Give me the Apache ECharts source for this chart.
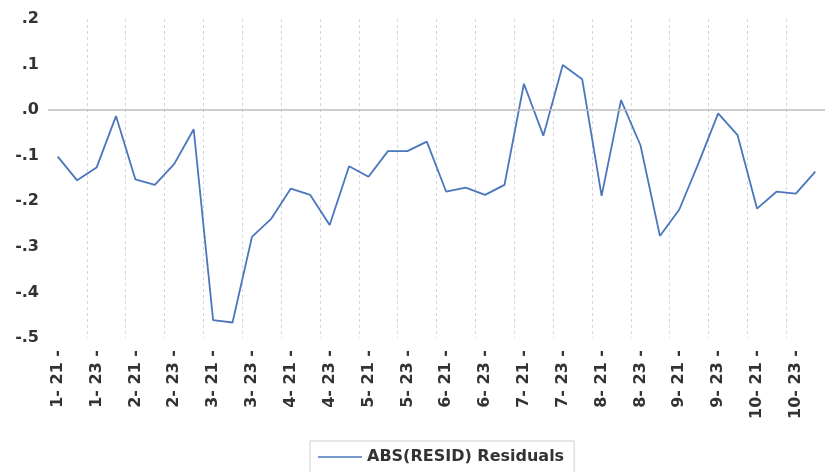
<!DOCTYPE html>
<html>
<head>
<meta charset="utf-8">
<script src="https://cdn.jsdelivr.net/npm/echarts@6/dist/echarts.min.js"></script>
<style>
html,body{margin:0;padding:0;background:#fff;}
#chart{width:825px;height:472px;}
</style>
</head>
<body>
<div id="chart"></div>
<script>
var categories = [
  "1- 21","1- 22","1- 23","1- 24","2- 21","2- 22","2- 23","2- 24",
  "3- 21","3- 22","3- 23","3- 24","4- 21","4- 22","4- 23","4- 24",
  "5- 21","5- 22","5- 23","5- 24","6- 21","6- 22","6- 23","6- 24",
  "7- 21","7- 22","7- 23","7- 24","8- 21","8- 22","8- 23","8- 24",
  "9- 21","9- 22","9- 23","9- 24","10- 21","10- 22","10- 23","10- 24"
];
var residuals = [
  -0.102,-0.154,-0.126,-0.013,-0.152,-0.164,-0.118,-0.042,
  -0.461,-0.466,-0.278,-0.238,-0.172,-0.186,-0.252,-0.123,
  -0.146,-0.090,-0.090,-0.069,-0.179,-0.170,-0.186,-0.164,
  0.058,-0.056,0.099,0.068,-0.188,0.022,-0.077,-0.276,
  -0.218,-0.115,-0.007,-0.055,-0.216,-0.179,-0.183,-0.135
];
var seriesName = "ABS(RESID) Residuals";
var yMin = -0.5, yMax = 0.2, yStep = 0.1;

var chart = echarts.init(document.getElementById('chart'), null, {renderer:'canvas'});
chart.setOption({
  animation: false,
  backgroundColor: '#ffffff',
  grid: {left: 48, right: -10, top: 19, bottom: 134, containLabel: false},
  xAxis: {
    type: 'category',
    data: categories,
    boundaryGap: true,
    axisLine: {show: false},
    axisTick: {show: false},
    axisLabel: {
      interval: 1,
      rotate: 90,
      margin: 12,
      fontFamily: 'DejaVu Sans',
      fontWeight: 'bold',
      fontSize: 16,
      color: '#333',
      formatter: function (v) { return v + ' -'; }
    },
    splitLine: {
      show: true,
      interval: function (i) { return i > 0 && i % 2 === 0; },
      lineStyle: {color: '#d4d4d4', type: [3, 3], width: 1}
    }
  },
  yAxis: {
    type: 'value',
    min: yMin, max: yMax, interval: yStep,
    axisLine: {show: false},
    axisTick: {show: false},
    splitLine: {show: false},
    axisLabel: {
      margin: 9,
      fontFamily: 'DejaVu Sans',
      fontWeight: 'bold',
      fontSize: 16,
      color: '#333',
      formatter: function (v) { return v.toFixed(1).replace('0.', '.'); }
    }
  },
  legend: {
    show: true,
    left: 310,
    top: 441,
    data: [seriesName],
    icon: 'rect',
    itemWidth: 44,
    itemHeight: 1.5,
    padding: [8, 10, 14, 8],
    borderColor: '#cfcfcf',
    borderWidth: 1,
    textStyle: {fontFamily: 'DejaVu Sans', fontWeight: 'bold', fontSize: 16, color: '#333'}
  },
  series: [{
    name: seriesName,
    type: 'line',
    data: residuals,
    symbol: 'none',
    lineStyle: {color: '#4a76bd', width: 1.8},
    itemStyle: {color: '#4a76bd'},
    markLine: {
      silent: true,
      symbol: 'none',
      label: {show: false},
      lineStyle: {color: '#bdbdbd', type: 'solid', width: 1.5},
      data: [{yAxis: 0}]
    },
    z: 3
  }]
});
</script>
</body>
</html>
